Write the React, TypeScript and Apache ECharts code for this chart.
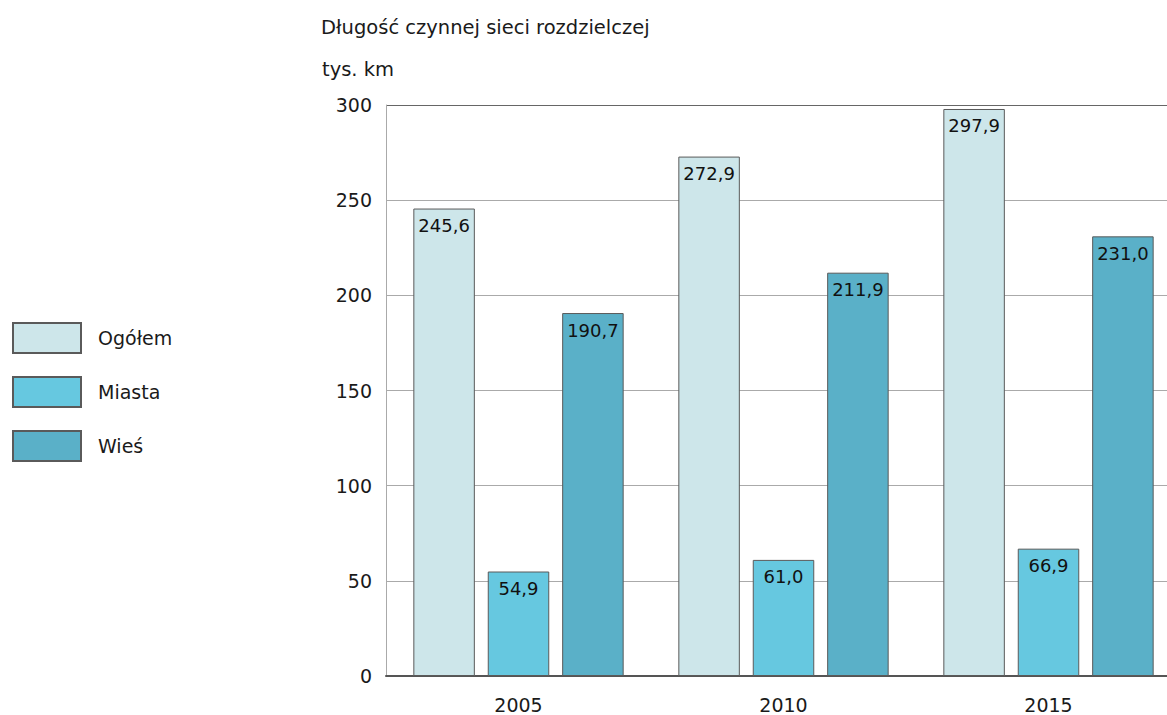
import React, { useEffect, useRef } from "react";
import * as echarts from "echarts";

const categories = ["2005", "2010", "2015"];
const ogolem = [245.6, 272.9, 297.9];
const miasta = [54.9, 61.0, 66.9];
const wies = [190.7, 211.9, 231.0];
const seriesNames = ["Ogółem", "Miasta", "Wieś"];
const yTicks = { min: 0, max: 300, interval: 50 };

const FONT = "DejaVu Sans, Liberation Sans, Arial, sans-serif";
const fmt = (v: number) => v.toFixed(1).replace(".", ",");

export default function App() {
  const ref = useRef<HTMLDivElement>(null);
  useEffect(() => {
    if (!ref.current) return;
    const chart = echarts.init(ref.current, undefined, { renderer: "svg" });
    const colors = ["#cde6ea", "#66c8e0", "#5ab0c8"];
    const datas = [ogolem, miasta, wies];
    chart.setOption({
      animation: false,
      backgroundColor: "#ffffff",
      textStyle: { fontFamily: FONT },
      graphic: [
        {
          type: "text",
          left: 321,
          top: 17,
          style: { text: "Długość czynnej sieci rozdzielczej", fontSize: 19.5, fill: "#1a1a1a", fontFamily: FONT },
        },
        {
          type: "text",
          left: 322,
          top: 59,
          style: { text: "tys. km", fontSize: 19.5, fill: "#1a1a1a", fontFamily: FONT },
        },
      ],
      legend: {
        orient: "vertical",
        left: 7,
        top: 317,
        itemWidth: 68,
        itemHeight: 30,
        itemGap: 22,
        icon: "rect",
        data: seriesNames,
        textStyle: { fontSize: 19, color: "#1a1a1a", fontFamily: FONT, padding: [0, 0, 0, 12] },
        selectedMode: false,
      },
      grid: { left: 386, top: 105, width: 795, height: 571, containLabel: false },
      xAxis: {
        type: "category",
        data: categories,
        axisLine: { show: true, lineStyle: { color: "#555", width: 2 } },
        axisTick: { show: false },
        axisLabel: { fontSize: 19, color: "#1a1a1a", margin: 19, fontFamily: FONT },
      },
      yAxis: {
        type: "value",
        min: yTicks.min,
        max: yTicks.max,
        interval: yTicks.interval,
        axisLine: { show: true, lineStyle: { color: "#aaa", width: 1 } },
        axisTick: { show: false },
        axisLabel: { fontSize: 19, color: "#1a1a1a", margin: 14, fontFamily: FONT },
        splitLine: {
          show: true,
          lineStyle: { color: ["#aaa", "#aaa", "#aaa", "#aaa", "#aaa", "#aaa", "#666"], width: 1 },
        },
      },
      series: seriesNames.map((name, i) => ({
        name,
        type: "bar",
        data: datas[i],
        barWidth: 61.5,
        barGap: "21%",
        itemStyle: { color: colors[i], borderColor: "#5a5a5a", borderWidth: 1 },
        label: {
          show: true,
          position: "insideTop",
          distance: 8,
          fontSize: 18,
          color: "#111",
          fontFamily: FONT,
          formatter: (p: any) => fmt(p.value),
        },
      })),
    });
    return () => chart.dispose();
  }, []);
  return (
    <div style={{ width: 1167, height: 715, position: "absolute", left: 0, top: 0, overflow: "hidden", background: "#fff" }}>
      <div ref={ref} style={{ width: 1200, height: 715 }} />
    </div>
  );
}
